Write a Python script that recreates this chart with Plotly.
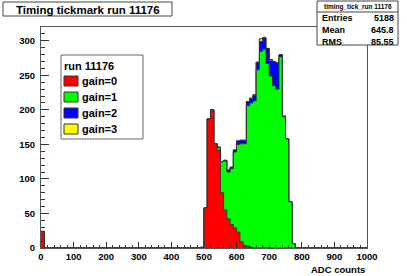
import numpy as np
import plotly.graph_objects as go

# ---------------- data ----------------
bin_width = 10
x_min, x_max = 0, 1000
# lower edges of the non-empty bins
bin_lo = [0, 490, 500, 510, 520, 530, 540, 550, 560, 570, 580, 590, 600, 610, 620,
          630, 640, 650, 660, 670, 680, 690, 700, 710, 720, 730, 740, 750, 760, 770]
gain0 = [24, 0, 58, 187, 200, 151, 141, 80, 55, 42, 34, 29, 23, 9, 4,
         2, 1, 0, 0, 0, 0, 0, 0, 0, 0, 0, 0, 0, 0, 0]
gain1 = [0, 1, 0, 0, 0, 0, 5, 45, 71, 68, 81, 110, 127, 142, 147,
         204, 209, 213, 258, 285, 288, 267, 249, 235, 230, 277, 190, 158, 67, 6]
gain2 = [0, 0, 0, 0, 0, 0, 0, 0, 1, 3, 2, 3, 5, 5, 5,
         6, 6, 8, 11, 14, 16, 22, 22, 35, 38, 3, 1, 0, 0, 0]
gain3 = [0, 0, 0, 0, 0, 0, 0, 0, 0, 0, 0, 0, 0, 0, 0,
         0, 1, 1, 0, 4, 1, 0, 2, 0, 0, 0, 0, 0, 0, 0]
series_names = ["gain=0", "gain=1", "gain=2", "gain=3"]
series_colors = ["#ff0000", "#00ff00", "#0000ff", "#ffff00"]
hist_title = "Timing tickmark run 11176"
stats_name = "timing_tick_run 11176"
stats_rows = [("Entries", "5188"), ("Mean", "645.8"), ("RMS", "85.55")]
legend_header = "run 11176"
x_title = "ADC counts"

# ---------------- build histograms ----------------
edges = np.arange(x_min, x_max + bin_width, bin_width)
nb = len(edges) - 1
full = []
for g in (gain0, gain1, gain2, gain3):
    h = np.zeros(nb)
    for lo, v in zip(bin_lo, g):
        h[(lo - x_min) // bin_width] = v
    full.append(h)
cum = np.cumsum(np.array(full), axis=0)

W, H = 407, 276
ML, MR, MT, MB = 41, 40, 27, 28
PW, PH = W - ML - MR, H - MT - MB


def px(x):
    return (x - ML) / PW


def py(y):
    return (H - MB - y) / PH


FONT = "Liberation Sans"
fig = go.Figure()
for i in reversed(range(4)):
    yv = list(cum[i]) + [cum[i][-1]]
    fig.add_trace(go.Scatter(
        x=edges, y=yv, mode="lines", line_shape="hv",
        line=dict(color="#333333", width=1),
        fill="tozeroy", fillcolor=series_colors[i],
        name=series_names[i], showlegend=False, hoverinfo="skip"))

tickfont = dict(family=FONT, size=9.5, color="black", weight="bold")
fig.update_xaxes(range=[x_min, x_max], tickmode="array",
                 tickvals=list(range(0, 1001, 100)),
                 ticks="inside", ticklen=6, tickcolor="#333", tickwidth=1,
                 minor=dict(dtick=20, ticks="inside", ticklen=3, tickcolor="#333"),
                 showline=True, linecolor="#555", linewidth=1, mirror=True,
                 showgrid=False, zeroline=False, tickfont=tickfont)
fig.update_yaxes(range=[0, 320], dtick=50, tick0=0,
                 ticks="inside", ticklen=8, tickcolor="#333", tickwidth=1,
                 minor=dict(dtick=10, ticks="inside", ticklen=4, tickcolor="#333"),
                 showline=True, linecolor="#555", linewidth=1, mirror=True,
                 showgrid=False, zeroline=False, tickfont=tickfont,
                 ticklabelstandoff=3)

shapes = []
ann = []
# title box
shapes.append(dict(type="rect", xref="paper", yref="paper",
                   x0=px(3), x1=px(172), y0=py(16), y1=py(2),
                   line=dict(color="#444", width=1), fillcolor="white", layer="above"))
ann.append(dict(text=hist_title, x=px(87.5), y=py(9.5), xref="paper", yref="paper",
                xanchor="center", yanchor="middle", showarrow=False,
                font=dict(family=FONT, size=11.5, color="black", weight="bold")))
# stats box
shapes.append(dict(type="rect", xref="paper", yref="paper",
                   x0=px(317), x1=px(398), y0=py(45), y1=py(1),
                   line=dict(color="#444", width=1), fillcolor="white", layer="above"))
shapes.append(dict(type="line", xref="paper", yref="paper",
                   x0=px(317), x1=px(398), y0=py(12), y1=py(12),
                   line=dict(color="#444", width=1), layer="above"))
ann.append(dict(text=stats_name, x=px(357.5), y=py(6.5), xref="paper", yref="paper",
                xanchor="center", yanchor="middle", showarrow=False,
                font=dict(family=FONT, size=6.5, color="black", weight="bold")))
for k, (lab, val) in enumerate(stats_rows):
    yy = 18.5 + 11.5 * k
    ann.append(dict(text=lab, x=px(320), y=py(yy), xref="paper", yref="paper",
                    xanchor="left", yanchor="middle", showarrow=False,
                    font=dict(family=FONT, size=9, color="black", weight="bold")))
    ann.append(dict(text=val, x=px(396), y=py(yy), xref="paper", yref="paper",
                    xanchor="right", yanchor="middle", showarrow=False,
                    font=dict(family=FONT, size=9, color="black", weight="bold")))
# legend box
shapes.append(dict(type="rect", xref="paper", yref="paper",
                   x0=px(61), x1=px(143), y0=py(139), y1=py(55),
                   line=dict(color="#666", width=1), fillcolor="white", layer="above"))
ann.append(dict(text=legend_header, x=px(62), y=py(65.5), xref="paper", yref="paper",
                xanchor="left", yanchor="middle", showarrow=False,
                font=dict(family=FONT, size=11, color="black", weight="bold")))
for k, (nm, col) in enumerate(zip(series_names, series_colors)):
    yc = 81 + 16 * k
    shapes.append(dict(type="rect", xref="paper", yref="paper",
                       x0=px(64), x1=px(78), y0=py(yc + 5), y1=py(yc - 5),
                       line=dict(color="#333", width=1), fillcolor=col, layer="above"))
    ann.append(dict(text=nm, x=px(80), y=py(yc), xref="paper", yref="paper",
                    xanchor="left", yanchor="middle", showarrow=False,
                    font=dict(family=FONT, size=11, color="black", weight="bold")))
# x axis title
ann.append(dict(text=x_title, x=px(367), y=py(269.5), xref="paper", yref="paper",
                xanchor="right", yanchor="middle", showarrow=False,
                font=dict(family=FONT, size=9.5, color="black", weight="bold")))

fig.update_layout(width=W, height=H, margin=dict(l=ML, r=MR, t=MT, b=MB),
                  paper_bgcolor="white", plot_bgcolor="white",
                  showlegend=False, shapes=shapes, annotations=ann)
fig.write_html("out.html", config={"displayModeBar": False},
               post_script="document.body.style.margin='0';document.body.style.overflow='hidden';")
